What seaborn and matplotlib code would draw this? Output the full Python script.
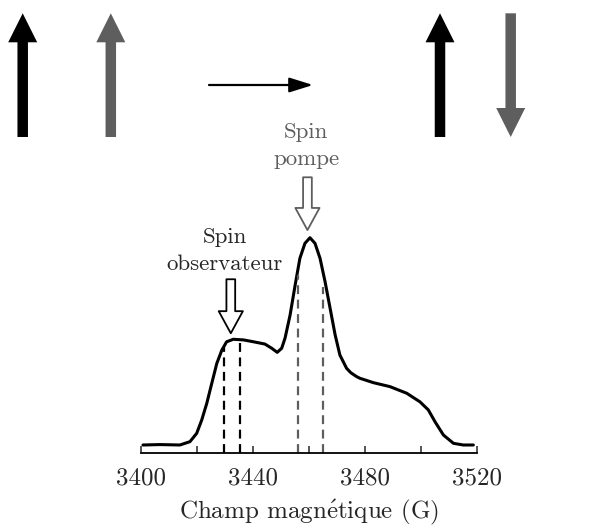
import matplotlib
matplotlib.use("Agg")
import matplotlib.pyplot as plt
from matplotlib.patches import FancyArrow
import seaborn as sns
import pandas as pd

# spectre EPR (champ en G, intensite normalisee)
field = [3400.7, 3406.8, 3413.9, 3417.5, 3419.9, 3421.7, 3423.5, 3425.3, 3427.1,
         3428.9, 3430.6, 3433.0, 3436.6, 3440.2, 3444.3, 3446.7, 3448.7, 3450.3,
         3451.5, 3453.3, 3455.1, 3456.8, 3458.6, 3460.4, 3462.2, 3464.0, 3465.8,
         3467.6, 3469.4, 3471.1, 3473.5, 3475.0, 3477.1, 3478.3, 3483.1, 3489.0,
         3495.0, 3499.7, 3502.7, 3505.1, 3508.1, 3511.7, 3515.2, 3518.8]
signal = [0.0, 0.002, 0.0, 0.016, 0.056, 0.120, 0.200, 0.297, 0.393,
          0.457, 0.497, 0.509, 0.506, 0.497, 0.486, 0.466, 0.446, 0.466,
          0.515, 0.626, 0.770, 0.899, 0.971, 0.998, 0.971, 0.899, 0.786,
          0.658, 0.530, 0.433, 0.369, 0.348, 0.329, 0.321, 0.300, 0.281,
          0.249, 0.208, 0.169, 0.112, 0.048, 0.008, 0.0, 0.0]

obs_lines = [3429.8, 3435.4]
obs_tops = [0.473, 0.497]
pump_lines = [3456.0, 3465.0]
pump_tops = [0.82, 0.76]

obs_pos = 3432.1
pump_pos = 3459.5

major_ticks = [3400, 3440, 3480, 3520]
minor_ticks = [3420, 3460, 3500]

gray = "#5e5e5e"

sns.set_style("white")
plt.rcParams["font.family"] = ["cmr10", "DejaVu Serif"]
plt.rcParams["mathtext.fontset"] = "cm"
plt.rcParams["axes.unicode_minus"] = False

fig = plt.figure(figsize=(5.96, 5.28), dpi=100)

# schema des spins en haut (coordonnees en pixels)
ax0 = fig.add_axes([0, 0, 1, 1])
ax0.set_xlim(0, 596)
ax0.set_ylim(528, 0)
ax0.axis("off")
for x, y0, y1, c in [(22.7, 137, 13.3, "black"), (110.8, 137, 13.3, gray),
                     (440, 137, 13.3, "black"), (510.7, 13.3, 137, gray)]:
    ax0.add_patch(FancyArrow(x, y0, 0, y1 - y0, width=10.5, head_width=29,
                             head_length=29, length_includes_head=True,
                             color=c, lw=0))
ax0.annotate("", xy=(313, 85), xytext=(209, 85),
             arrowprops=dict(arrowstyle="-|>,head_length=0.8,head_width=0.25",
                             lw=1.6, color="black", shrinkA=0, shrinkB=0,
                             mutation_scale=18))

ax = fig.add_axes([141 / 596, (528 - 453.3) / 528, 335.7 / 596, (453.3 - 110) / 528])
df = pd.DataFrame({"field": field, "signal": signal})
sns.lineplot(data=df, x="field", y="signal", color="black", lw=2.2, ax=ax,
             solid_joinstyle="round")

ax.vlines(obs_lines, -0.04, obs_tops, colors="black", linestyles=(0, (4, 2.5)), lw=1.6)
ax.vlines(pump_lines, -0.04, pump_tops, colors=gray, linestyles=(0, (4, 2.5)), lw=1.6)

hollow = "simple,head_length=0.53,head_width=0.58,tail_width=0.21"
ax.annotate("", xy=(obs_pos, 0.538), xytext=(obs_pos, 0.798),
            arrowprops=dict(arrowstyle=hollow, fc="white", ec="black", lw=1.3,
                            shrinkA=0, shrinkB=0, mutation_scale=30))
ax.annotate("", xy=(pump_pos, 1.035), xytext=(pump_pos, 1.289),
            arrowprops=dict(arrowstyle=hollow, fc="white", ec=gray, lw=1.3,
                            shrinkA=0, shrinkB=0, mutation_scale=30))

ax.text(3429.9, 0.843, "Spin\nobservateur", ha="center", va="baseline",
        fontsize=16.5, linespacing=1.5)
ax.text(3459.0, 1.348, "Spin\npompe", ha="center", va="baseline",
        fontsize=16.5, linespacing=1.5, color=gray)

ax.set_xlim(3400, 3520)
ax.set_ylim(-0.04, 1.613)
ax.set_xticks(major_ticks)
ax.set_xticks(minor_ticks, minor=True)
ax.set_yticks([])
ax.tick_params(axis="x", which="both", direction="in", length=5.3, width=1.1,
               pad=10, labelsize=18, bottom=True)
for s in ["top", "left", "right"]:
    ax.spines[s].set_visible(False)
ax.spines["bottom"].set_linewidth(1.3)
ax.spines["bottom"].set_color("black")
ax.set_xlabel("Champ magn$\\acute{\\mathrm{e}}$tique (G)", fontsize=18, labelpad=6)
ax.set_ylabel("")
ax.patch.set_alpha(0)

fig.savefig("out.png", dpi=100)
